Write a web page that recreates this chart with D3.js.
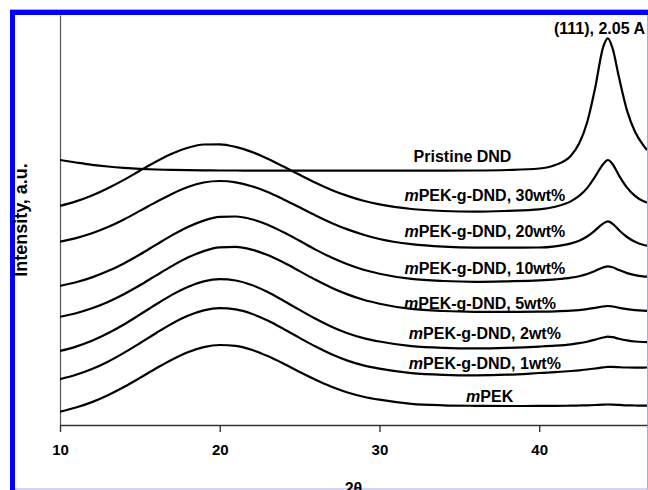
<!DOCTYPE html>
<html><head><meta charset="utf-8">
<script src="https://cdnjs.cloudflare.com/ajax/libs/d3/7.8.5/d3.min.js"></script>
<style>
html,body{margin:0;padding:0;background:#fff;}
svg{display:block;}
text{font-family:"Liberation Sans",Arial,Helvetica,sans-serif;font-weight:bold;fill:#000;}
</style></head>
<body>
<svg id="chart" width="648" height="490"></svg>
<script>
// 2-theta sample positions (degrees)
const theta = [10,11,12,13,14,15,16,17,18,19,20,21,22,23,24,25,26,27,28,29,30,32,34,36,38,40,41,42,42.5,43,43.5,44,44.3,44.6,45,45.5,46,46.5,46.75];

// Intensities (a.u., offset stacked as plotted)
const mPEK = [13.3,17.5,22.9,29.8,38.0,47.1,56.5,65.3,72.8,77.9,80.0,79.1,75.2,68.9,61.3,53.1,45.2,38.2,32.5,28.3,25.3,21.2,19.7,19.2,19.0,19.1,19.2,19.3,19.5,19.7,20.0,20.4,20.5,20.4,20.1,19.7,19.5,19.3,19.3];
const wt1 = [45.8,50.2,56.0,63.3,72.1,81.8,91.8,101.3,109.2,114.6,116.8,115.6,111.3,104.4,96.0,87.1,78.4,70.7,64.4,59.6,56.3,51.9,50.2,49.7,50.3,52.0,52.9,54.0,54.7,55.5,56.5,57.6,58.1,58.1,57.8,57.5,57.4,57.4,57.5];
const wt2 = [74.0,78.4,84.2,91.7,100.5,110.4,120.5,130.1,138.1,143.6,145.8,144.5,140.0,133.0,124.3,115.1,106.2,98.3,91.8,86.9,83.5,78.9,77.2,76.7,77.2,78.4,79.3,80.7,81.8,83.3,85.3,87.5,88.4,87.8,86.2,84.6,83.5,83.0,82.9];
const wt5 = [108.2,111.8,116.7,123.1,130.8,139.7,149.4,158.9,167.4,173.9,177.6,178.1,175.4,169.9,162.4,153.9,145.2,137.3,130.6,125.2,121.3,116.1,114.0,113.2,113.1,113.3,113.6,114.3,114.9,115.8,117.1,118.5,119.0,118.5,117.2,115.8,114.9,114.3,114.1];
const wt10 = [139.2,142.7,147.6,153.9,161.6,170.5,180.1,189.6,198.0,204.4,208.1,208.5,205.8,200.3,192.7,184.2,175.4,167.5,160.7,155.2,151.3,146.1,144.0,143.2,143.7,144.6,145.6,147.3,148.8,151.0,154.1,157.5,158.7,157.7,154.9,151.9,149.9,148.7,148.4];
const wt20 = [183.3,186.9,191.7,198.0,205.6,214.1,222.9,231.1,238.0,242.5,244.0,242.7,238.8,233.0,225.6,217.7,209.6,202.1,195.6,190.3,186.0,180.8,178.3,177.4,177.4,177.5,178.7,181.6,184.3,188.5,194.6,201.4,203.6,201.2,194.8,188.0,183.2,180.2,179.3];
const wt30 = [219.1,223.6,229.5,236.8,245.1,254.3,263.3,271.3,277.2,280.5,280.7,278.1,273.1,266.3,258.4,250.2,242.3,235.1,229.1,224.2,220.6,216.0,214.0,213.3,214.1,215.6,218.2,223.9,229.1,236.9,248.4,260.8,265.0,260.8,249.4,237.4,229.1,223.9,222.4];
const pristine = [265,262.5,260.2,258.5,257.2,256.2,255.5,255.1,254.8,254.6,254.5,254.5,254.4,254.4,254.4,254.4,254.4,254.4,254.4,254.4,254.4,254.4,254.4,254.5,255,256.5,260,269.5,281.4,302.5,336.8,377.7,386.7,376.4,347.4,314.4,293.3,280.1,275];

const seriesNames = ["mPEK","mPEK-g-DND, 1wt%","mPEK-g-DND, 2wt%","mPEK-g-DND, 5wt%","mPEK-g-DND, 10wt%","mPEK-g-DND, 20wt%","mPEK-g-DND, 30wt%","Pristine DND"];
const seriesValues = [mPEK, wt1, wt2, wt5, wt10, wt20, wt30, pristine];
const xTicks = [10,20,30,40];
const xTitle = "2θ";
const yTitle = "Intensity, a.u.";
const peakNote = "(111), 2.05 A";

// label anchor in data coordinates (theta, intensity)
const labelTheta = [36.9,36.6,36.6,36.3,36.6,36.6,36.6,35.2];
const labelInt = [23,56.3,85.7,115.7,150.7,187.7,224,263];

const svg = d3.select("#chart");
const pL = 60, pR = 647, pT = 15, pB = 425;
const x = d3.scaleLinear().domain([10, 46.75]).range([pL, pR]);
const y = d3.scaleLinear().domain([0, 410]).range([pB, pT]);

// frame
svg.append("rect").attr("x",10.5).attr("y",9.5).attr("width",637).attr("height",479.5)
  .attr("fill","none").attr("stroke","#a8a8f0").attr("stroke-width",1);
svg.append("rect").attr("x",10).attr("y",10).attr("width",638).attr("height",5).attr("fill","#0000ff");
svg.append("rect").attr("x",10).attr("y",10).attr("width",5).attr("height",480).attr("fill","#0000ff");

// y axis (line only)
const yAxis = svg.append("g").attr("transform",`translate(${pL},0)`)
  .call(d3.axisLeft(y).tickValues([]).tickSizeOuter(0));
yAxis.select(".domain").attr("stroke","#555").attr("stroke-width",1.2);

// x axis
const xAxis = svg.append("g").attr("transform",`translate(0,${pB})`)
  .call(d3.axisBottom(x).tickValues(xTicks).tickSize(7).tickSizeOuter(0).tickFormat(d3.format("d")));
xAxis.select(".domain").attr("stroke","#333").attr("stroke-width",1.6);
xAxis.selectAll(".tick line").attr("stroke","#333").attr("stroke-width",1.4);
xAxis.selectAll(".tick text").attr("y",30).attr("dy",0)
  .style("font-family",'"Liberation Sans",Arial,sans-serif').style("font-weight","bold")
  .style("font-size","15px").attr("fill","#000");

// curves
const line = d3.line().x((d,i)=>x(theta[i])).y(d=>y(d)).curve(d3.curveMonotoneX);
svg.append("clipPath").attr("id","clp").append("rect")
  .attr("x",pL).attr("y",pT).attr("width",pR-pL).attr("height",pB-pT);
svg.append("g").attr("clip-path","url(#clp)")
  .selectAll("path").data(seriesValues).join("path")
  .attr("d",line).attr("fill","none").attr("stroke","#000").attr("stroke-width",2.2)
  .attr("stroke-linejoin","round");

// labels
seriesNames.forEach((name,i)=>{
  const t = svg.append("text").attr("x",x(labelTheta[i])).attr("y",y(labelInt[i]))
    .attr("text-anchor","middle").style("font-size","16px");
  if (name.startsWith("mPEK")) {
    t.append("tspan").style("font-style","italic").text("m");
    t.append("tspan").text(name.slice(1));
  } else t.text(name);
});
svg.append("text").attr("x",645).attr("y",34).attr("text-anchor","end")
  .style("font-size","16px").text(peakNote);

// axis titles
svg.append("text").attr("x",(pL+pR)/2).attr("y",494).attr("text-anchor","middle")
  .style("font-size","16px").text(xTitle);
svg.append("text").attr("transform",`translate(27,${(pT+pB)/2}) rotate(-90)`)
  .attr("text-anchor","middle").style("font-size","18px").text(yTitle);
</script>
</body></html>
